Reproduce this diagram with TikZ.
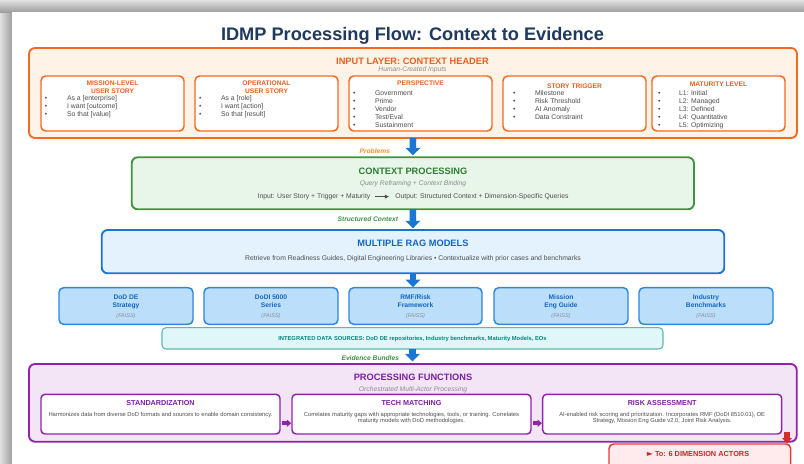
\documentclass[tikz,border=0pt]{standalone}
\usepackage{fontspec}
\setmainfont{Liberation Sans}
\newfontfamily\symfont{DejaVu Sans}
\usetikzlibrary{arrows.meta,fit,calc}
\newcommand\pfs[1]{\fontsize{#1pt}{#1pt}\selectfont}

\definecolor{navy}{HTML}{1F3A5F}
\definecolor{orgline}{HTML}{F26A1F}
\definecolor{orgfill}{HTML}{FEF3E6}
\definecolor{orgtext}{HTML}{E8601C}
\definecolor{lblorange}{HTML}{F0902E}
\definecolor{grntext}{HTML}{2E7D32}
\definecolor{grnline}{HTML}{43923F}
\definecolor{grnfill}{HTML}{E8F5E9}
\definecolor{lblgreen}{HTML}{3E9142}
\definecolor{blutext}{HTML}{1565C0}
\definecolor{bluline}{HTML}{1E73D2}
\definecolor{blufill}{HTML}{E3F2FD}
\definecolor{srcfill}{HTML}{BBDEFB}
\definecolor{srcline}{HTML}{2F86DF}
\definecolor{cyanfill}{HTML}{E0F7FA}
\definecolor{cyanline}{HTML}{5DB8B0}
\definecolor{cyantext}{HTML}{00897B}
\definecolor{purline}{HTML}{8E24AA}
\definecolor{purfill}{HTML}{F3E5F5}
\definecolor{purtext}{HTML}{7B1FA2}
\definecolor{redline}{HTML}{E53935}
\definecolor{redfill}{HTML}{FFEBEE}
\definecolor{redtext}{HTML}{C62828}
\definecolor{redarrow}{HTML}{D32F2F}
\definecolor{arrblue}{HTML}{1976D2}
\definecolor{bodytext}{HTML}{4E4E4E}
\definecolor{subtext}{HTML}{8C8C8C}

\begin{document}
\begin{tikzpicture}[x=0.75pt,y=-0.75pt,
  every node/.style={inner sep=0pt,outer sep=0pt},
  txt/.style={anchor=base},
  hdr/.style={txt,font=\bfseries\pfs{6.95}},
  subt/.style={txt,font=\itshape\pfs{5.05},text=subtext},
  subhdr/.style={txt,font=\bfseries\pfs{5.0},text=orgtext},
  item/.style={anchor=base west,font=\pfs{5.15},text=bodytext},
  bul/.style={item},
  body/.style={txt,font=\pfs{5.1},text=bodytext},
  fntext/.style={txt,font=\pfs{4.35},text=bodytext},
  fnhdr/.style={txt,font=\bfseries\pfs{5.4},text=purtext},
  srchd/.style={txt,font=\bfseries\pfs{5.0},text=blutext},
  faiss/.style={txt,font=\itshape\pfs{4.1},text=subtext},
  lbl/.style={anchor=base east,font=\bfseries\itshape\pfs{5.0}},
  bigbox/.style={rounded corners=4.5pt,line width=1.4pt},
  inputbox/.style={bigbox,draw=orgline,fill=orgfill},
  subbox/.style={draw=orgline,fill=white,rounded corners=3.5pt,line width=1.1pt},
  ctxbox/.style={bigbox,draw=grnline,fill=grnfill},
  ragbox/.style={bigbox,draw=bluline,fill=blufill},
  srcbox/.style={draw=srcline,fill=srcfill,rounded corners=3.5pt,line width=1.1pt},
  intbox/.style={draw=cyanline,fill=cyanfill,rounded corners=3pt,line width=0.8pt},
  procbox/.style={bigbox,draw=purline,fill=purfill},
  fnbox/.style={draw=purline,fill=white,rounded corners=3pt,line width=1.1pt},
  outbox/.style={draw=redline,fill=redfill,rounded corners=3.5pt,line width=1.1pt},
  barrow/.style={draw=arrblue,line width=4.9pt,-{Triangle[width=11.25pt,length=5.6pt,line width=0pt]}},
  parrow/.style={draw=purline,line width=3pt,-{Triangle[width=5.5pt,length=3.2pt,line width=0pt]}},
  rarrow/.style={draw=redarrow,line width=4pt,-{Triangle[width=7.5pt,length=4.2pt,line width=0pt]}},
  ioarrow/.style={draw=bodytext,line width=0.45pt,-{Triangle[width=3pt,length=3pt,line width=0pt]}},
]
\useasboundingbox (0,0) rectangle (804,464);
\clip (0,0) rectangle (804,464);

% page and grey window edge
\fill[white] (0,0) rectangle (804,464);
\shade[left color=black!12, right color=black!38] (0,0) rectangle (12,464);
\shade[top color=black!12, bottom color=black!38] (0,0) rectangle (804,12);
\fill[white] (12,12) rectangle (804,464);

% title
\node[txt,font=\bfseries\pfs{13.65},text=navy] (title) at (412.5,40.6) {IDMP Processing Flow: Context to Evidence};

% ---------- input layer ----------
\node[inputbox,fit={(29,48) (797,138)}] (inp) {};
\node[hdr,text=orgtext] (inph) at (412.5,64.6) {INPUT LAYER: CONTEXT HEADER};
\node[subt] (inps) at (412.5,71.3) {Human-Created Inputs};

\node[subbox,fit={(41,76) (184,131)}] (ms) {};
\node[subbox,fit={(195,76) (338,131)}] (os) {};
\node[subbox,fit={(349,76) (492,131)}] (pp) {};
\node[subbox,fit={(503,76) (646,131)}] (st) {};
\node[subbox,fit={(652,76) (785,131)}] (ml) {};

\node[subhdr] (msh1) at (112.5,85.4) {MISSION-LEVEL};
\node[subhdr] (msh2) at (112.5,93.4) {USER STORY};
\node[subhdr] (osh1) at (266.5,85.4) {OPERATIONAL};
\node[subhdr] (osh2) at (266.5,93.4) {USER STORY};
\node[subhdr] (pph) at (420.5,85.7) {PERSPECTIVE};
\node[subhdr] (sth) at (574.5,88.4) {STORY TRIGGER};
\node[subhdr] (mlh) at (718.5,86.7) {MATURITY LEVEL};

\foreach \s [count=\i] in {{As a [enterprise]},{I want [outcome]},{So that [value]}}
  {\node[bul] (msb\i) at (45,92+8*\i) {•}; \node[item] (msi\i) at (67,92+8*\i) {\s};}
\foreach \s [count=\i] in {{As a [role]},{I want [action]},{So that [result]}}
  {\node[bul] (osb\i) at (199,92+8*\i) {•}; \node[item] (osi\i) at (221,92+8*\i) {\s};}
\foreach \s [count=\i] in {Government,Prime,Vendor,Test/Eval,Sustainment}
  {\node[bul] (ppb\i) at (353,87.6+8*\i) {•}; \node[item] (ppi\i) at (375,87.6+8*\i) {\s};}
\foreach \s [count=\i] in {Milestone,Risk Threshold,AI Anomaly,Data Constraint}
  {\node[bul] (stb\i) at (513,87+8*\i) {•}; \node[item] (sti\i) at (535,87+8*\i) {\s};}
\foreach \s [count=\i] in {L1: Initial,L2: Managed,L3: Defined,L4: Quantitative,L5: Optimizing}
  {\node[bul] (mlb\i) at (658,87+8*\i) {•}; \node[item] (mli\i) at (679,87+8*\i) {\s};}

% ---------- context processing ----------
\node[ctxbox,fit={(131.7,157.3) (694,209.3)}] (ctx) {};
\node[hdr,text=grntext] (ctxh) at (413,174) {CONTEXT PROCESSING};
\node[subt] (ctxs) at (413,185.6) {Query Reframing + Context Binding};
\node[body,anchor=base east] (io1) at (370.3,198.4) {Input: User Story + Trigger + Maturity};
\node[body,anchor=base west] (io2) at (395.3,198.4) {Output: Structured Context + Dimension-Specific Queries};
\draw[ioarrow] ($(io1.east)+(4.5,0)$) -- ($(io2.west)+(-6.5,0)$);

\draw[barrow] (inp.south) -- ([yshift=1.5pt]ctx.north);
\node[lbl,text=lblorange] (lprob) at (390,153) {Problems};

% ---------- RAG models ----------
\node[ragbox,fit={(101.7,230) (724.3,273.3)}] (rag) {};
\node[hdr,text=blutext] (ragh) at (413,246.6) {MULTIPLE RAG MODELS};
\node[body] (ragt) at (413,260.6) {Retrieve from Readiness Guides, Digital Engineering Libraries • Contextualize with prior cases and benchmarks};

\draw[barrow] (ctx.south) -- ([yshift=1.3pt]rag.north);
\node[lbl,text=lblgreen] (lstruct) at (398,221) {Structured Context};

% ---------- knowledge sources ----------
\node[srcbox,fit={(59,287.7) (193,324.3)}] (s1) {};
\node[srchd] (s1a) at (126,299) {DoD DE};
\node[srchd] (s1b) at (126,307) {Strategy};
\node[faiss] (s1c) at (126,317.8) {(FAISS)};

\node[srcbox,fit={(204,287.7) (338,324.3)}] (s2) {};
\node[srchd] (s2a) at (271,299) {DoDI 5000};
\node[srchd] (s2b) at (271,307) {Series};
\node[faiss] (s2c) at (271,317.8) {(FAISS)};

\node[srcbox,fit={(349,287.7) (482,324.3)}] (s3) {};
\node[srchd] (s3a) at (415.5,299) {RMF/Risk};
\node[srchd] (s3b) at (415.5,307) {Framework};
\node[faiss] (s3c) at (415.5,317.8) {(FAISS)};

\node[srcbox,fit={(494,287.7) (628,324.3)}] (s4) {};
\node[srchd] (s4a) at (561,299) {Mission};
\node[srchd] (s4b) at (561,307) {Eng Guide};
\node[faiss] (s4c) at (561,317.8) {(FAISS)};

\node[srcbox,fit={(639,287.7) (773,324.3)}] (s5) {};
\node[srchd] (s5a) at (706,299) {Industry};
\node[srchd] (s5b) at (706,307) {Benchmarks};
\node[faiss] (s5c) at (706,317.8) {(FAISS)};

\draw[barrow] (rag.south) -- ([yshift=0.5pt]rag.south |- s3.north);

\node[intbox,fit={(162,327.7) (663,349)}] (integ) {};
\node[txt,font=\bfseries\pfs{4.35},text=cyantext] (integt) at (412.5,340.1) {INTEGRATED DATA SOURCES: DoD DE repositories, Industry benchmarks, Maturity Models, EOs};

% ---------- processing functions ----------
\node[procbox,fit={(29,364) (796.7,441.7)}] (proc) {};
\node[hdr,text=purtext] (proch) at (413,380) {PROCESSING FUNCTIONS};
\node[subt] (procs) at (413,391.3) {Orchestrated Multi-Actor Processing};

\draw[barrow] (integ.south) -- ([yshift=2pt]integ.south |- proc.north);
\node[lbl,text=lblgreen] (levid) at (399,360) {Evidence Bundles};

\node[fnbox,fit={(41,394.3) (280,434)}] (std) {};
\node[fnhdr] (stdh) at (160.5,405.3) {STANDARDIZATION};
\node[fntext] (stdt) at (160.5,416) {Harmonizes data from diverse DoD formats and sources to enable domain consistency.};

\node[fnbox,fit={(292,394.3) (531,434)}] (tech) {};
\node[fnhdr] (techh) at (411.5,405.3) {TECH MATCHING};
\node[fntext] (techt1) at (411.5,416) {Correlates maturity gaps with appropriate technologies, tools, or training. Correlates};
\node[fntext] (techt2) at (411.5,422.8) {maturity models with DoD methodologies.};

\node[fnbox,fit={(542.7,394.3) (781.7,434)}] (risk) {};
\node[fnhdr] (riskh) at (662.2,405.3) {RISK ASSESSMENT};
\node[fntext] (riskt1) at (662.2,416) {AI-enabled risk scoring and prioritization. Incorporates RMF (DoDI 8510.01), DE};
\node[fntext] (riskt2) at (662.2,422.8) {Strategy, Mission Eng Guide v2.0, Joint Risk Analysis.};

\draw[parrow] ($(std.south east)+(1.8,-10.8)$) -- ($(tech.south west)+(-0.8,-10.8)$);
\draw[parrow] ($(tech.south east)+(1.8,-10.8)$) -- ($(risk.south west)+(-0.8,-10.8)$);

% ---------- hand-off ----------
\node[outbox,fit={(609,444) (790.7,478)}] (out) {};
\node[txt,font=\bfseries\pfs{5.5},text=redtext] (outt) at (698,456.3) {{\symfont\fontsize{6pt}{6pt}\selectfont ►}\ To: 6 DIMENSION ACTORS};
\coordinate (redfrom) at (787,432);
\draw[rarrow] (redfrom) -- ([yshift=0.3pt]redfrom |- out.north);

\end{tikzpicture}
\end{document}
